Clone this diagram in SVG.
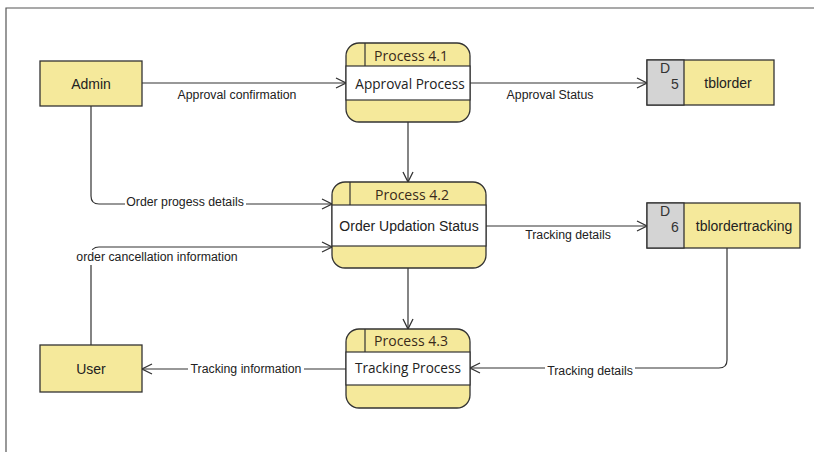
<svg xmlns="http://www.w3.org/2000/svg" width="814" height="452" viewBox="0 0 814 452">
  <defs>
    <marker id="open-arrow" viewBox="0 0 12 12" refX="11" refY="6" markerWidth="12" markerHeight="12" markerUnits="userSpaceOnUse" orient="auto">
      <path d="M1,1 L11,6 L1,11" fill="none" stroke="#333" stroke-width="1.3"/>
    </marker>
    <style>
      .frame { fill: none; stroke: #555; stroke-width: 1.2; }
      .entity { fill: #f5e99b; stroke: #333; stroke-width: 1.3; }
      .proc { fill: #f5e99b; stroke: #333; stroke-width: 1.3; }
      .band { fill: #ffffff; stroke: #333; stroke-width: 1.2; }
      .sep { stroke: #333; stroke-width: 1.2; }
      .store { fill: #f5e99b; stroke: #333; stroke-width: 1.3; }
      .storeid { fill: #d4d4d4; stroke: #333; stroke-width: 1.3; }
      .flow { fill: none; stroke: #333; stroke-width: 1.2; marker-end: url(#open-arrow); }
      .t { font-family: "Liberation Sans", Arial, sans-serif; font-size: 14px; fill: #222; text-anchor: middle; dominant-baseline: central; }
      .pt { font-family: "Open Sans", "Noto Sans", sans-serif; font-size: 13.6px; fill: #222; text-anchor: middle; dominant-baseline: central; }
      .ph { font-family: "Open Sans", "Noto Sans", sans-serif; font-size: 14px; fill: #3a2a1a; text-anchor: middle; dominant-baseline: central; }
      .lbl { font-family: "Liberation Sans", Arial, sans-serif; font-size: 12.3px; fill: #222; text-anchor: middle; dominant-baseline: central; }
      .bg { fill: #ffffff; }
      .sid { font-family: "Liberation Sans", Arial, sans-serif; font-size: 14px; fill: #333; }
    </style>
  </defs>

  <rect width="814" height="452" fill="#ffffff"/>
  <path class="frame" d="M6,452 L6,8 L814,8"/>

  <!-- data flows -->
  <g id="connectors">
    <line class="flow" x1="142" y1="83" x2="346" y2="83"/>
    <text class="lbl" x="237" y="95">Approval confirmation</text>

    <line class="flow" x1="470" y1="83" x2="647" y2="83"/>
    <text class="lbl" x="550" y="95">Approval Status</text>

    <line class="flow" x1="408" y1="122" x2="408" y2="182"/>

    <path class="flow" d="M91,106 L91,196 Q91,204 99,204 L332,204"/>
    <rect class="bg" x="125" y="195" width="121" height="15"/>
    <text class="lbl" x="185" y="202">Order progess details</text>

    <path class="flow" d="M91,345 L91,255 Q91,247 99,247 L332,247"/>
    <rect class="bg" x="73" y="250" width="169" height="15"/>
    <text class="lbl" x="157" y="257">order cancellation information</text>

    <line class="flow" x1="486" y1="226" x2="647" y2="226"/>
    <text class="lbl" x="568" y="235">Tracking details</text>

    <line class="flow" x1="408" y1="268" x2="408" y2="329"/>

    <path class="flow" d="M727,248 L727,360 Q727,368 719,368 L470,368"/>
    <rect class="bg" x="545" y="363" width="90" height="15"/>
    <text class="lbl" x="590" y="371">Tracking details</text>

    <line class="flow" x1="346" y1="369" x2="142" y2="369"/>
    <rect class="bg" x="188" y="362" width="116" height="15"/>
    <text class="lbl" x="246" y="369">Tracking information</text>
  </g>

  <!-- external entities -->
  <g id="admin">
    <rect class="entity" x="40" y="61" width="102" height="45"/>
    <text class="t" x="91" y="84">Admin</text>
  </g>
  <g id="user">
    <rect class="entity" x="40" y="345" width="102" height="47"/>
    <text class="t" x="91" y="369">User</text>
  </g>

  <!-- processes -->
  <g id="process-4-1">
    <rect class="proc" x="346" y="43" width="124" height="79" rx="13"/>
    <rect class="band" x="346" y="66" width="124" height="34"/>
    <line class="sep" x1="365" y1="43" x2="365" y2="66"/>
    <text class="ph" x="411" y="55">Process 4.1</text>
    <text class="pt" x="410" y="83">Approval Process</text>
  </g>
  <g id="process-4-2">
    <rect class="proc" x="332" y="182" width="154" height="86" rx="13"/>
    <rect class="band" x="332" y="205" width="154" height="41"/>
    <line class="sep" x1="350" y1="182" x2="350" y2="205"/>
    <text class="ph" x="412" y="194">Process 4.2</text>
    <text class="t" x="409" y="226">Order Updation Status</text>
  </g>
  <g id="process-4-3">
    <rect class="proc" x="346" y="329" width="124" height="79" rx="13"/>
    <rect class="band" x="346" y="352" width="124" height="33"/>
    <line class="sep" x1="365" y1="329" x2="365" y2="352"/>
    <text class="ph" x="411" y="340">Process 4.3</text>
    <text class="pt" x="408" y="367">Tracking Process</text>
  </g>

  <!-- data stores -->
  <g id="store-d5">
    <rect class="store" x="647" y="60" width="127" height="45"/>
    <rect class="storeid" x="647" y="60" width="37" height="45"/>
    <text class="sid" x="660" y="73">D</text>
    <text class="sid" x="671" y="89">5</text>
    <text class="t" x="728" y="83">tblorder</text>
  </g>
  <g id="store-d6">
    <rect class="store" x="647" y="203" width="153" height="45"/>
    <rect class="storeid" x="647" y="203" width="37" height="45"/>
    <text class="sid" x="660" y="216">D</text>
    <text class="sid" x="671" y="232">6</text>
    <text class="t" x="744" y="226">tblordertracking</text>
  </g>
</svg>
